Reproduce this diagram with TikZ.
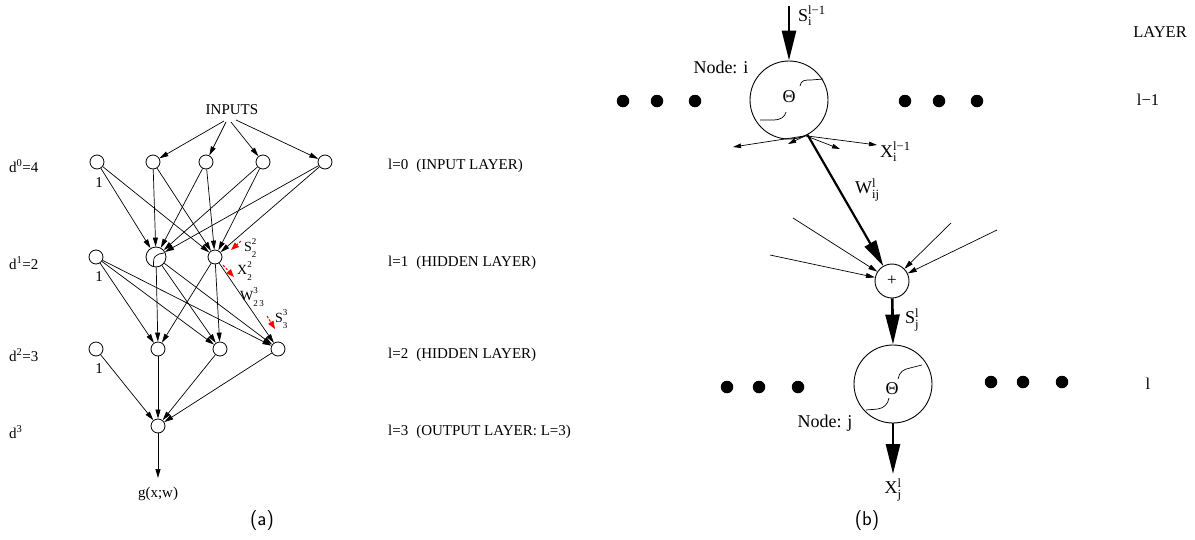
\documentclass[tikz,border=0pt]{standalone}
\usepackage{fontspec}
\usepackage{amsmath}
\setmainfont{Liberation Serif}
\usetikzlibrary{arrows.meta}

\newcommand\scr[3]{#1$^{\text{#2}}_{\text{#3}}$}
% base letter with a raised upper index and a lowered lower index
\newcommand\idx[3]{#1\rlap{\raisebox{0.5em}{\fontsize{9}{9}\selectfont #2}}\raisebox{-0.38em}{\fontsize{9}{9}\selectfont #3}}

\begin{document}
\begin{tikzpicture}[x=1pt,y=-1pt,
  unit/.style={circle,draw,line width=0.8pt,minimum size=14pt,inner sep=0pt},
  bigunit/.style={circle,draw,line width=0.9pt,minimum size=78pt,inner sep=0pt,font=\fontsize{18}{20}\selectfont},
  sumunit/.style={circle,draw,line width=0.9pt,minimum size=34pt,inner sep=0pt,font=\fontsize{17}{19}\selectfont},
  edge/.style={line width=0.7pt,-{Triangle[length=9pt,width=5pt]}},
  redarr/.style={red,line width=1pt,dash pattern=on 2.5pt off 1.5pt,-{Triangle[length=8pt,width=6pt]}},
  heavy/.style={line width=2.6pt,-{Triangle[length=30pt,width=14pt]}},
  lefttxt/.style={font=\fontsize{15}{17}\selectfont,inner sep=0pt},
  smalltxt/.style={font=\fontsize{14}{16}\selectfont,inner sep=0pt},
  righttxt/.style={font=\fontsize{18}{20}\selectfont,inner sep=0pt},
  sidetxt/.style={font=\fontsize{16.5}{19}\selectfont,inner sep=0pt},
  dot/.style={circle,fill,minimum size=12.5pt,inner sep=0pt},
  capt/.style={font=\sffamily\fontsize{20}{22}\selectfont,inner sep=0pt}
]
\useasboundingbox (0,0) rectangle (1195,539);

% ---------------- (a) multilayer network ----------------
\node[lefttxt] (inputs) at (232,110) {INPUTS};
\coordinate (in1) at (224,121);
\coordinate (in2) at (226,122);
\coordinate (in3) at (231,122);
\coordinate (in4) at (236,120);

% layer 0
\node[unit] (b0) at (97,162) {};
\node[unit] (a1) at (153,162) {};
\node[unit] (a2) at (206,162) {};
\node[unit] (a3) at (263,162) {};
\node[unit] (a4) at (325,162) {};
% layer 1
\node[unit] (b1) at (96,257) {};
\node[unit,minimum size=20pt] (h1) at (156,257) {};
\node[unit] (h2) at (215,257) {};
% layer 2
\node[unit] (b2) at (96,349) {};
\node[unit] (k1) at (158,349) {};
\node[unit] (k2) at (220,349) {};
\node[unit] (k3) at (278,349) {};
% output
\node[unit] (o) at (158,426) {};
\coordinate (oend) at (158,478);

% sigmoid sign in the hidden unit
\draw[line width=0.7pt] (153.5,266) -- (153.5,262) .. controls (153.5,257) and (156,255) .. (159,254)
  -- (164,253);

\foreach \s/\t in {in1/a1,in2/a2,in3/a3,in4/a4} \draw[edge] (\s) -- (\t);
\foreach \s in {b0,a1,a2,a3,a4} {
  \draw[edge] (\s) -- (h1);
  \draw[edge] (\s) -- (h2);
}
\foreach \s in {b1,h1,h2} {
  \draw[edge] (\s) -- (k1);
  \draw[edge] (\s) -- (k2);
  \draw[edge] (\s) -- (k3);
}
\foreach \s in {b2,k1,k2,k3} \draw[edge] (\s) -- (o);
\draw[edge] (o) -- (oend);
\node[lefttxt] (gout) at (158,494) {g(x;w)};

% unit labels
\node[lefttxt] (one0) at (99,183) {1};
\node[lefttxt] (one1) at (99,277) {1};
\node[lefttxt] (one2) at (99,369) {1};

\node[lefttxt,anchor=west] (d0) at (9,166) {d$^{\text{0}}$=4};
\node[lefttxt,anchor=west] (d1) at (9,263) {d$^{\text{1}}$=2};
\node[lefttxt,anchor=west] (d2) at (9,355) {d$^{\text{2}}$=3};
\node[lefttxt,anchor=west] (d3) at (9,432) {d$^{\text{3}}$};

\node[lefttxt,anchor=west] (l0) at (388,166) {l=0\hspace{8pt}(INPUT LAYER)};
\node[lefttxt,anchor=west] (l1) at (388,263) {l=1\hspace{8pt}(HIDDEN LAYER)};
\node[lefttxt,anchor=west] (l2) at (388,355) {l=2\hspace{8pt}(HIDDEN LAYER)};
\node[lefttxt,anchor=west] (l3) at (388,432) {l=3\hspace{8pt}(OUTPUT LAYER: L=3)};

% signal, output and weight labels
\coordinate (rs1) at (241,241);
\coordinate (rs1e) at (231,250);
\draw[redarr] (rs1) -- (rs1e);
\node[smalltxt,anchor=west] (s22) at (244,248) {\idx{S}{2}{2}};
\coordinate (rx1) at (223,265);
\coordinate (rx1e) at (234,277);
\draw[redarr] (rx1) -- (rx1e);
\node[smalltxt,anchor=west] (x22) at (237,271) {\idx{X}{2}{2}};
\node[smalltxt,anchor=west] (w23) at (240,297) {\idx{W}{3}{2\,3}};
\coordinate (rs3) at (267,316);
\coordinate (rs3e) at (275,329);
\draw[redarr] (rs3) -- (rs3e);
\node[smalltxt,anchor=west] (s33) at (275,319) {\idx{S}{3}{3}};

\node[capt] (capa) at (262,521) {(a)};

% ---------------- (b) single connection ----------------
\node[sidetxt] (layer) at (1160,32) {LAYER};
\node[sidetxt] (lprev) at (1148,100) {l−1};
\node[sidetxt] (lcur) at (1148,384) {l};

% node i
\node[bigunit] (ni) at (789,100) {};
\node[righttxt] (thi) at (789,97) {Θ};
\draw[line width=0.7pt] (800,86) .. controls (801,80) and (805,80) .. (811,80) -- (823,79);
\draw[line width=0.7pt] (760,120) -- (774,120) .. controls (780,120) and (785,117) .. (786,112);
\node[righttxt] (nodei) at (721,67) {Node: i};
\coordinate (sin) at (789,6);
\draw[heavy] (sin) -- (ni.north);
\node[righttxt,anchor=west] (sinl) at (798,16) {\scr{S}{l−1}{i}};

\node[dot] (p1) at (623,101) {};
\node[dot] (p2) at (657,101) {};
\node[dot] (p3) at (695,101) {};
\node[dot] (p4) at (905,101) {};
\node[dot] (p5) at (939,101) {};
\node[dot] (p6) at (977,101) {};

% fan-out of node i
\coordinate (e1) at (733,147);
\coordinate (e2) at (788,144);
\coordinate (e3) at (840,149);
\coordinate (e4) at (877,145);
\foreach \t in {e1,e2,e3,e4} \draw[edge,-{Triangle[length=8pt,width=4.5pt]}] (ni.-65) -- (\t);
\node[righttxt,anchor=west] (xil) at (880,152) {\scr{X}{l−1}{i}};

% summing junction
\node[sumunit] (sum) at (892,281) {+};
\draw[heavy,line width=2.2pt,-{Triangle[length=26pt,width=13pt]}] (ni.-62) -- (sum);
\node[righttxt,anchor=west] (wij) at (855,190) {\scr{W}{l}{ij}};
\coordinate (f1) at (770,255);
\coordinate (f2) at (793,218);
\coordinate (f3) at (951,223);
\coordinate (f4) at (997,230);
\foreach \s in {f1,f2,f3,f4} \draw[edge] (\s) -- (sum);

% node j
\node[bigunit] (nj) at (893,384) {};
\node[righttxt] (thj) at (892,389) {Θ};
\draw[line width=0.7pt] (898,379) .. controls (899,372) and (904,369) .. (910,368) -- (922,365);
\draw[line width=0.7pt] (866,410) -- (878,409) .. controls (884,408) and (888,404) .. (889,398);
\node[righttxt] (nodej) at (825,423) {Node: j};
\draw[heavy] (sum) -- (nj.north);
\node[righttxt,anchor=west] (sjl) at (905,320) {\scr{S}{l}{j}};
\coordinate (xout) at (893,474);
\draw[heavy] (nj.south) -- (xout);
\node[righttxt] (xjl) at (893,490) {\scr{X}{l}{j}};

\node[dot] (q1) at (727,387) {};
\node[dot] (q2) at (759,387) {};
\node[dot] (q3) at (798,387) {};
\node[dot] (q4) at (991,382) {};
\node[dot] (q5) at (1023,382) {};
\node[dot] (q6) at (1062,382) {};

\node[capt] (capb) at (867,521) {(b)};
\end{tikzpicture}
\end{document}
